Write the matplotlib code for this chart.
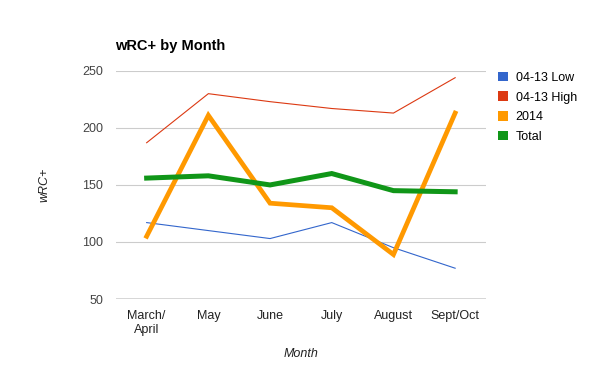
import matplotlib
matplotlib.use("Agg")
import matplotlib.pyplot as plt
from matplotlib.patches import Patch

months = ["March/\nApril", "May", "June", "July", "August", "Sept/Oct"]
low = [117, 110, 103, 117, 95, 77]
high = [187, 230, 223, 217, 213, 244]
y2014 = [105, 211, 134, 130, 89, 213]
total = [156, 158, 150, 160, 145, 144]

series = [
    ("04-13 Low", low, "#3366cc", 0.8),
    ("04-13 High", high, "#dc3912", 0.8),
    ("2014", y2014, "#ff9900", 3.4),
    ("Total", total, "#109618", 3.6),
]

plt.rcParams['font.family'] = ['Liberation Sans', 'DejaVu Sans']

fig = plt.figure(figsize=(6, 3.71), dpi=100)
ax = fig.add_axes([0.193, 0.194, 0.617, 0.615])

x = list(range(len(months)))
for name, vals, col, lw in series:
    ax.plot(x, vals, color=col, lw=lw, solid_joinstyle="miter", label=name)

ax.set_xlim(-0.5, len(months) - 0.5)
ax.set_ylim(50, 250)
ax.set_yticks([50, 100, 150, 200, 250])
for v in [100, 150, 200, 250]:
    ax.axhline(v, color="#cccccc", lw=0.8, zorder=0)
ax.axhline(50, color="#333333", lw=1.0, zorder=1)
for s in ax.spines.values():
    s.set_visible(False)
ax.tick_params(axis="both", length=0)
ax.tick_params(axis="y", labelsize=9, labelcolor="#444444", pad=9)
ax.set_xticks(x)
ax.set_xticklabels(months, fontsize=9, color="#222222")
ax.tick_params(axis="x", pad=8)

ax.set_xlabel("Month", fontsize=9, style="italic", color="#222222", labelpad=9)
ax.set_ylabel("wRC+", fontsize=9, style="italic", color="#222222", labelpad=23)

fig.text(0.192, 0.876, "wRC+ by Month", fontsize=10.5, fontweight="bold", va="center")

handles = [Patch(facecolor=c, edgecolor="none") for _, _, c, _ in series]
fig.legend(handles, [s[0] for s in series], loc="upper left",
           bbox_to_anchor=(0.822, 0.82), frameon=False, fontsize=9,
           handlelength=0.8, handleheight=0.8, handletextpad=0.6,
           labelspacing=0.6, borderaxespad=0)

fig.savefig("out.png", dpi=100)
